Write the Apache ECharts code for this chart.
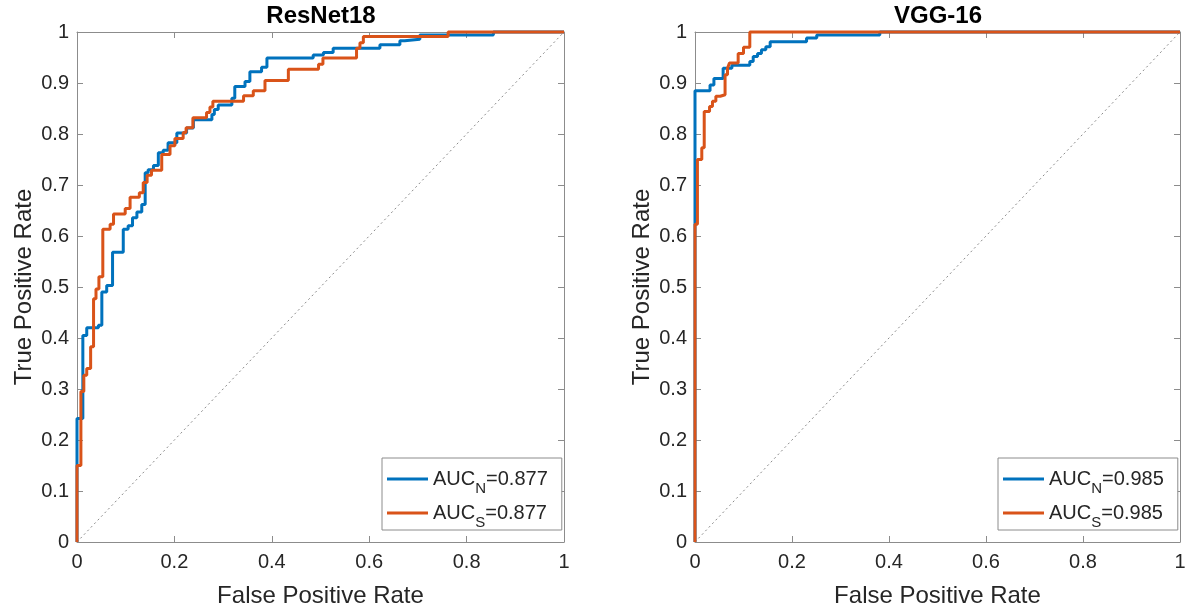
<!DOCTYPE html>
<html><head><meta charset="utf-8">
<script src="https://cdn.jsdelivr.net/npm/echarts@6/dist/echarts.min.js"></script>
<style>html,body{margin:0;padding:0;background:#fff}#c{width:1190px;height:613px}</style>
</head><body><div id="c"></div>
<script>
const panelTitles = ['ResNet18', 'VGG-16'];
const xAxisName = 'False Positive Rate';
const yAxisName = 'True Positive Rate';
const aucN = ['0.877', '0.985'];
const aucS = ['0.877', '0.985'];

// ResNet18 – N (blue)
const resnetN_fpr = [0,0,0.012,0.02,0.044,0.051,0.061,0.073,0.095,0.105,0.114,0.123,0.133,0.14,0.146,0.157,0.167,0.177,0.187,0.205,0.225,0.239,0.277,0.282,0.29,0.318,0.324,0.345,0.355,0.379,0.39,0.485,0.506,0.526,0.622,0.663,0.673,0.704,0.855,1];
const resnetN_tpr = [0,0.242,0.405,0.42,0.425,0.49,0.503,0.568,0.613,0.62,0.636,0.647,0.662,0.724,0.73,0.738,0.763,0.768,0.783,0.802,0.812,0.828,0.838,0.848,0.857,0.870,0.893,0.903,0.922,0.931,0.949,0.955,0.96,0.968,0.975,0.983,0.986,0.994,1,1];
// ResNet18 – S (orange)
const resnetS_fpr = [0,0,0.008,0.014,0.02,0.028,0.034,0.039,0.045,0.053,0.068,0.075,0.099,0.109,0.128,0.136,0.144,0.153,0.174,0.191,0.201,0.218,0.224,0.238,0.266,0.273,0.279,0.342,0.362,0.386,0.434,0.496,0.505,0.574,0.581,0.588,0.762,1];
const resnetS_tpr = [0,0.15,0.295,0.327,0.34,0.383,0.477,0.496,0.52,0.613,0.623,0.643,0.654,0.676,0.685,0.705,0.719,0.729,0.760,0.777,0.791,0.803,0.8125,0.832,0.842,0.853,0.864,0.875,0.885,0.905,0.927,0.937,0.949,0.968,0.979,0.991,1,1];
// VGG-16 – N (blue)
const vggN_fpr = [0,0,0.031,0.039,0.058,0.076,0.113,0.12,0.129,0.137,0.146,0.155,0.23,0.251,0.381,1];
const vggN_tpr = [0,0.885,0.896,0.909,0.929,0.935,0.942,0.952,0.958,0.965,0.971,0.981,0.988,0.994,1,1];
// VGG-16 – S (orange)
const vggS_fpr = [0,0,0.005,0.014,0.019,0.03,0.036,0.043,0.052,0.062,0.067,0.071,0.089,0.1,0.113,1];
const vggS_tpr = [0,0.623,0.75,0.773,0.844,0.854,0.864,0.874,0.877,0.916,0.929,0.939,0.958,0.970,1,1];

const diagX = [0, 1];
const diagY = [0, 1];

const FONT = '"Liberation Sans", Arial, Helvetica, sans-serif';
const AXC = '#8c8c8c';
const TXT = '#262626';
const BLUE = '#0072BD';
const ORANGE = '#D95319';

function zip(a, b) { return a.map((v, i) => [v, b[i]]); }

const grids = [
  { left: 77, top: 32, width: 487, height: 512 },
  { left: 695, top: 32, width: 485, height: 512 }
];

function xAx(gi, pos) {
  const main = pos === 'bottom';
  return {
    type: 'value', gridIndex: gi, position: pos, min: 0, max: 1, interval: 0.2,
    name: main ? xAxisName : '', nameLocation: 'middle', nameGap: 42,
    nameTextStyle: { fontSize: 24, color: TXT, fontFamily: FONT },
    axisLine: { show: true, onZero: false, lineStyle: { color: AXC, width: 1 } },
    axisTick: { show: true, inside: true, length: 6, lineStyle: { color: AXC } },
    axisLabel: { show: main, fontSize: 20, color: TXT, fontFamily: FONT, margin: 10 },
    splitLine: { show: false }
  };
}
function yAx(gi, pos) {
  const main = pos === 'left';
  return {
    type: 'value', gridIndex: gi, position: pos, min: 0, max: 1, interval: 0.1,
    name: main ? yAxisName : '', nameLocation: 'middle', nameGap: 41, nameRotate: 90,
    nameTextStyle: { fontSize: 24, color: TXT, fontFamily: FONT },
    axisLine: { show: true, onZero: false, lineStyle: { color: AXC, width: 1 } },
    axisTick: { show: true, inside: true, length: 6, lineStyle: { color: AXC } },
    axisLabel: { show: main, fontSize: 20, color: TXT, fontFamily: FONT, margin: 8 },
    splitLine: { show: false }
  };
}

function curve(name, gi, fpr, tpr, color) {
  return {
    name: name, type: 'line', xAxisIndex: gi, yAxisIndex: gi,
    data: zip(fpr, tpr), step: 'end', showSymbol: false, symbol: 'none',
    clip: false, animation: false,
    lineStyle: { color: color, width: 3 }, itemStyle: { color: color }
  };
}
function diag(gi) {
  return {
    type: 'line', xAxisIndex: gi, yAxisIndex: gi, data: zip(diagX, diagY),
    showSymbol: false, symbol: 'none', silent: true, animation: false,
    lineStyle: { color: '#8a8a8a', width: 1, type: [2, 3] }, z: 1
  };
}

const rich = {
  a: { fontSize: 20, fontFamily: FONT, color: TXT, lineHeight: 34, verticalAlign: 'middle' },
  s: { fontSize: 15, fontFamily: FONT, color: TXT, lineHeight: 18, verticalAlign: 'bottom' }
};
function legendFmt(name) {
  const i = +name.slice(1);
  const k = name[0];
  const v = k === 'N' ? aucN[i] : aucS[i];
  return '{a|AUC}{s|' + k + '}{a|=' + v + '}';
}
function legend(gi, left) {
  return {
    data: ['N' + gi, 'S' + gi], left: left, top: 458, orient: 'vertical',
    icon: 'rect', itemWidth: 41, itemHeight: 3, itemGap: 7,
    padding: [11, 14, 0, 5], borderColor: '#8c8c8c', borderWidth: 1, backgroundColor: '#fff',
    selectedMode: false, formatter: legendFmt,
    textStyle: { rich: rich, fontFamily: FONT, fontSize: 20, color: TXT }
  };
}

const option = {
  animation: false,
  backgroundColor: '#fff',
  title: [
    { text: panelTitles[0], left: 321, top: 4, textAlign: 'center', padding: 0,
      textStyle: { fontSize: 24, fontWeight: 'bold', color: '#000', fontFamily: FONT } },
    { text: panelTitles[1], left: 938, top: 4, textAlign: 'center', padding: 0,
      textStyle: { fontSize: 24, fontWeight: 'bold', color: '#000', fontFamily: FONT } }
  ],
  grid: grids,
  xAxis: [xAx(0, 'bottom'), xAx(1, 'bottom'), xAx(0, 'top'), xAx(1, 'top')],
  yAxis: [yAx(0, 'left'), yAx(1, 'left'), yAx(0, 'right'), yAx(1, 'right')],
  legend: [legend(0, 382), legend(1, 998)],
  series: [
    diag(0), diag(1),
    curve('N0', 0, resnetN_fpr, resnetN_tpr, BLUE),
    curve('S0', 0, resnetS_fpr, resnetS_tpr, ORANGE),
    curve('N1', 1, vggN_fpr, vggN_tpr, BLUE),
    curve('S1', 1, vggS_fpr, vggS_tpr, ORANGE)
  ]
};
const chart = echarts.init(document.getElementById('c'), null, { renderer: 'canvas' });
chart.setOption(option);
</script></body></html>
